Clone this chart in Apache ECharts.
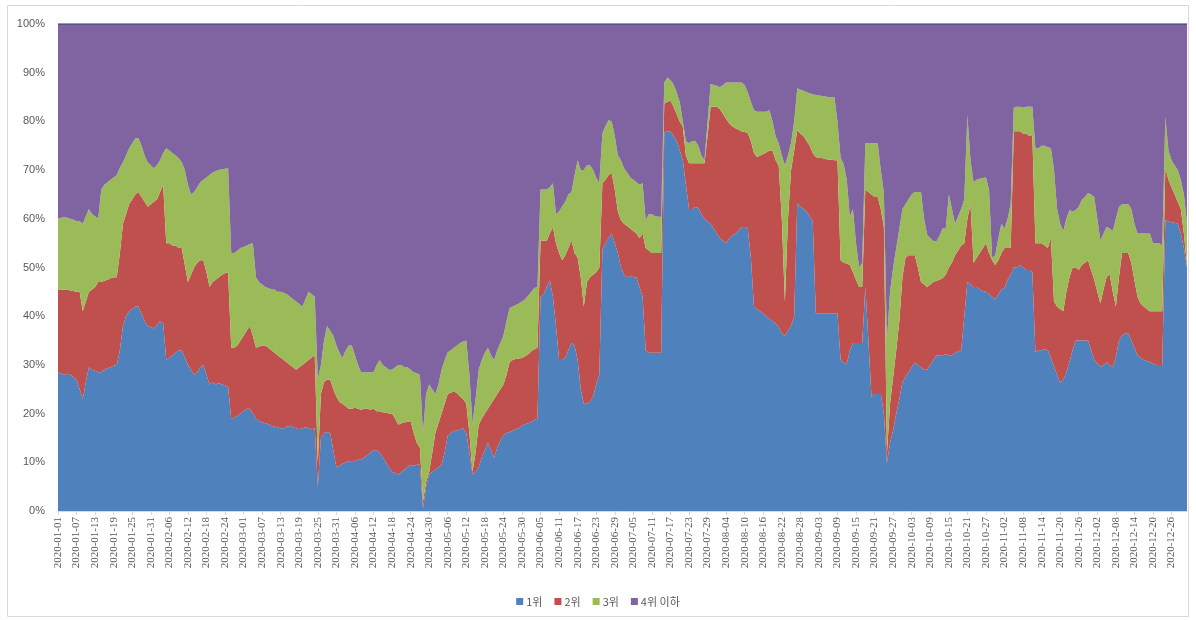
<!DOCTYPE html>
<html>
<head>
<meta charset="utf-8">
<script src="https://cdn.jsdelivr.net/npm/echarts@6/dist/echarts.min.js"></script>
<style>
  html, body { margin: 0; padding: 0; background: #fff; }
  #chart { width: 1196px; height: 620px; }
</style>
</head>
<body>
<div id="chart"></div>
<script>
// 2020 daily share (cumulative: top1, top1+2, top1+2+3), in %
var startDate = "2020-01-01";
var dayCount = 366;

var top1 = [
  28.5,28.3,28.0,28.2,28.0,27.5,27.0,25.0,23.0,26.5,
  29.5,29.0,28.8,28.5,28.5,29.0,29.3,29.5,29.8,30.0,
  33,38,40,41,41.5,42,42,40.5,39,38,
  37.8,37.5,38.2,39,38.5,31,31.5,32,32.5,33,
  33,31.5,30,29,28,28.5,29.5,30,28,26,
  26.5,26,26.3,26,25.8,25.5,19,19.2,19.5,20,
  20.5,21,21,20,19,18.5,18.2,18,17.8,17.5,
  17.3,17.2,17,17,17.3,17.5,17.2,17,16.8,17,
  17.2,17,16.8,17,5,15,16,16.2,16,12.5,
  9,9.3,9.7,10,10.2,10,10.3,10.5,10.5,11,
  11.5,12,12.5,12.5,12,11,10,9,8,7.8,
  7.5,8,8.5,9,9.5,9.3,9.5,9.5,0.5,5,
  7.5,8,8.5,9,9.5,12,15.5,16,16.5,16.5,
  16.8,17,16,12,7.5,8,9,11,12.5,14,
  12.5,11,13,14.5,15.5,16,16.2,16.5,16.8,17,
  17.5,17.8,18,18.3,18.7,19,44,44.5,46,47.4,
  44,38,31,31,31.5,33,34.5,34,31,25,
  22,22,22.5,23.5,26,28,53.6,55,56,57,
  55,53,50,48.5,48,48.3,48,48,46,44,
  33,32.5,32.5,32.5,32.5,32.5,77.6,78,78,77,
  76,74,72,67,62,62,62.4,62.2,61,60,
  59.5,59,58,57,56,55.5,55,56,56.5,57,
  57.5,58.3,58.3,58,52,42,41.5,41,40.5,40,
  39.5,39,38.5,37.8,36.5,36,37,38,40,63.2,
  62.5,62,61.5,60.5,59.5,40.6,40.6,40.6,40.6,40.6,
  40.6,40.6,40.6,31,30.5,30.2,33,34.5,34.5,34.5,
  34.5,46,35,23.4,24,24,24,20,9.8,14,
  16.6,20,23,26.5,27.5,28.5,29.5,30.5,30,29.5,
  29,29,30,31,32,32,32,32.2,32,32,
  32.5,32.8,33,40,47,46.5,46,46,45.5,45.2,
  45,44.5,44,43.5,44.5,45.5,45.8,47.5,48.5,50,
  50,50.5,50,49.5,49.5,49,32.6,33,33,33.2,
  33,31.5,29.6,28,26.3,27,28.5,30.6,33,35,
  35,35,35,35,33,31,30.3,29.6,30,30.5,
  30,29.6,31.5,35,36,36.5,36.5,35,33.5,32,
  31.5,31,30.8,30.6,30.3,30,30,30,59.7,59.5,
  59.3,59.2,59,57,54,50
];

var top2 = [
  45.5,45.5,45.4,45.5,45.3,45.2,45,45,41,43,
  45,45.5,46,47,47,47.3,47.5,47.8,48,48,
  53,59,61,63,64,65,65.5,64.5,63.5,62.5,
  63,63.5,64,65.5,67,55,55,54.5,54.5,54,
  54,50.5,47,48.5,50,51,51.5,51.5,49,46,
  47,47.5,48,48.5,48.8,49,33.5,33.5,34,35,
  36,37,38,36,33.5,33.8,34,34,33.5,33,
  32.5,32,31.5,31,30.5,30,29.5,29,29.5,30,
  30.5,31,31.5,32,10,24,26.5,27,27,25,
  23.5,22.4,22,21.5,21,21,21.2,21,20.8,21,
  21,20.8,21,20.5,20.5,20.3,20.2,20,20,19,
  17.7,18,18.2,18.3,18.5,16,14,13,2,6,
  8,12,16,18,20,22,24,24.3,24.6,24.2,
  23.5,23,22,16,8,12,17.7,19,20,21,
  22,23,24,25,26,28,30.6,31,31.2,31.3,
  31.4,31.8,32.2,32.8,33.2,33.5,55.6,55.5,55.5,57,
  58.3,55,53,51.5,52.5,54,55.6,53,52,48,
  42,47,48,48.5,49,50,67.3,68,69,69.4,
  66,61.5,59.7,59,58.5,58,57.5,57,56,57,
  54,53.5,53,53,53,53,83.7,84,84.3,83,
  81.5,80,78.9,73,71.4,71.4,71.4,71.4,71.4,71.4,
  77,83,83,83,82.5,81.5,80.5,79.6,79,78.6,
  78.3,78,77.8,77.6,76,73.5,72.7,73,73.3,73.6,
  74,74,72,71,60,43,60,70,74,78.2,
  77.5,77,76,75,73.5,72.7,72.5,72.5,72.3,72.2,
  72.1,72,72,51.5,51,50.8,50.5,49,47.5,46,
  46,66,65.5,65,64.5,64.5,62,58.3,12,22,
  27.5,33,39,48,52,52.5,52.5,52.5,50,47,
  46.5,46,46.5,47,47.3,47.5,47.8,48.5,50,51,
  52.5,53.5,54.5,55,60,63,51,52,53,54,
  55,53,51.5,50.5,51.5,53,54,54,54,78,
  78,78,77.5,77.5,77,77,55,55,55,54.5,
  54,56,43,42,41.5,41,45,48,50,50,
  49.5,50.5,51,51.5,49.5,47.5,45,42.6,45.5,48,
  48.6,45,42,48,53,53,53,51,47.4,44,
  42.6,42,41.5,41,41,41,41,41,70.6,68,
  66.5,65,63.5,62,57,50.5
];

var top3 = [
  60,60.2,60.3,60.2,60,59.8,59.5,59.5,59,60.5,
  62,61,60.5,60,66,67,67.5,68,68.5,69,
  70.5,71.6,73,74.5,75.5,76.5,76.6,75,73,71.6,
  71,70.4,71,72,73.5,74.5,74,73.5,73,72.5,
  71.6,70,67,65,65.5,66.5,67.5,68,68.5,69,
  69.5,69.8,70,70.2,70.3,70.4,53,53,53.5,54,
  54.2,54.5,54.8,55,48,47,46.5,46,45.8,45.5,
  45.5,45,45,44.8,44.5,44,43.5,43,42.5,42,
  43.5,45,44.5,44,27,30,35,38,37,36,
  34,32.5,31.4,33,34,34,32,30,28.5,28.5,
  28.5,28.5,28.5,30,31,30,29.5,29,29,29.5,
  30,30,29.5,29.5,29,28.5,28.3,28,16,24,
  26,25,24,26,29,31,32.6,33,33.5,34,
  34.5,34.8,35,28,18,23,29,31,32.5,33.5,
  32,31,33,34.5,36,39,41.7,42,42.3,42.6,
  43,43.5,44.2,45,45.8,46,66,66,66,66.5,
  67.3,61,61.5,62.6,63.5,65,65.5,69,72,70,
  70,71,71,70,68.5,67.3,77.6,79,80.3,80,
  77,73,72,70.4,69.5,68.5,68,67.5,67,67.3,
  59.7,61,61,60.5,60.4,60.4,88,89,88.5,87.6,
  86,84,80,76,75.5,76,76,75,73,72,
  80,87.7,87.5,87.3,87,87.5,88,88,88,88,
  88,88,87.5,86,84,82.3,82,82,82,82,
  82.3,80,77,75.5,73,71,73,75.6,80,86.8,
  86.5,86.3,86,85.8,85.6,85.4,85.3,85.2,85.1,85,
  85,85,80,72.6,71.2,68,60.4,62,55,50,
  51,75.5,75.5,75.5,75.5,75.5,70,65.3,35,45,
  50,54,58,62,63,64,65,65.5,65.5,65.5,
  60,56.7,56,55.4,55.4,56.5,58,58,65,62,
  59,60.5,62,64,81.3,72,67.5,68,68.2,68.4,
  68.5,66,52,52.5,56,59,58,60,63,82.8,
  83,83,82.8,83,83,83,74.5,74.5,75,75,
  74.7,74.5,70,62,59,57.5,60,61.8,61.5,61.8,
  62.5,63.9,64.5,65.3,65,64.5,60,55.6,57,58.3,
  58,57.5,60,62.4,63,63,63,62,59,57,
  57,57,57,57,55,55,55,54.5,81,74,
  72,71,70,68,65,59
];

var seriesNames = ["1위", "2위", "3위", "4위 이하"];
var colors = ["#4F81BD", "#C0504D", "#9BBB59", "#8064A2"];

// categories: one per day of 2020
var dates = [];
(function () {
  var d = new Date(startDate + "T00:00:00Z");
  for (var i = 0; i < dayCount; i++) {
    dates.push(d.toISOString().slice(0, 10));
    d.setUTCDate(d.getUTCDate() + 1);
  }
})();

// per-rank shares from the cumulative lines
var shares = [[], [], [], []];
for (var i = 0; i < dayCount; i++) {
  shares[0].push(top1[i]);
  shares[1].push(+Math.max(0, top2[i] - top1[i]).toFixed(2));
  shares[2].push(+Math.max(0, top3[i] - top2[i]).toFixed(2));
  shares[3].push(+(100 - Math.max(top3[i], top2[i])).toFixed(2));
}

var chart = echarts.init(document.getElementById("chart"));

var series = seriesNames.map(function (name, k) {
  return {
    name: name,
    type: "line",
    stack: "share",
    data: shares[k],
    showSymbol: false,
    symbol: "none",
    lineStyle: k === 3 ? { width: 1.5, color: "#4a4a8a" } : { width: 0 },
    itemStyle: { color: colors[k] },
    areaStyle: { color: colors[k], opacity: 1 },
    emphasis: { disabled: true }
  };
});

chart.setOption({
  animation: false,
  backgroundColor: "#fff",
  color: colors,
  graphic: [{
    type: "rect",
    shape: { x: 7.5, y: 5.5, width: 1181, height: 611 },
    style: { fill: "none", stroke: "#d9d9d9", lineWidth: 1 },
    silent: true
  }],
  grid: { left: 58, right: 9, top: 24, bottom: 109 },
  legend: {
    data: seriesNames,
    bottom: 8,
    left: "center",
    icon: "rect",
    itemWidth: 7,
    itemHeight: 7,
    itemGap: 12,
    textStyle: { fontFamily: "Noto Sans CJK KR", fontSize: 11, color: "#595959", padding: [0, 0, 0, -2] }
  },
  xAxis: {
    type: "category",
    data: dates,
    boundaryGap: false,
    axisLine: { show: true, lineStyle: { color: "#d9d9d9" } },
    axisTick: { show: true, interval: 5, length: 4, lineStyle: { color: "#d9d9d9" } },
    axisLabel: {
      interval: 5,
      rotate: 90,
      margin: 6,
      fontFamily: "Liberation Serif",
      fontSize: 11,
      color: "#595959"
    }
  },
  yAxis: {
    type: "value",
    min: 0,
    max: 100,
    interval: 10,
    axisLine: { show: false },
    axisTick: { show: false },
    splitLine: { show: false },
    axisLabel: {
      formatter: "{value}%",
      fontFamily: "Liberation Sans",
      fontSize: 11,
      color: "#595959",
      margin: 13
    }
  },
  series: series
});
</script>
</body>
</html>
